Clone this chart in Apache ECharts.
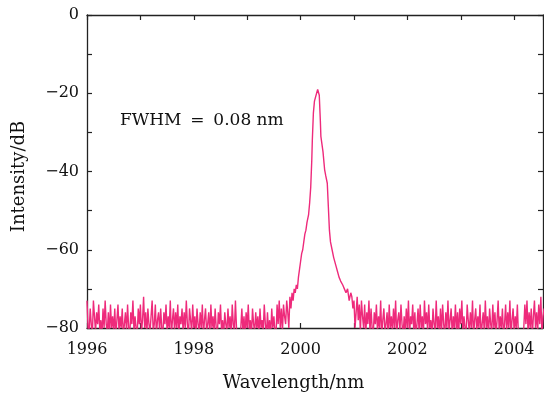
<!DOCTYPE html>
<html>
<head>
<meta charset="utf-8">
<script src="https://cdn.jsdelivr.net/npm/echarts@6/dist/echarts.min.js"></script>
<style>
  html, body { margin: 0; padding: 0; background: #fff; }
  #chart { width: 544px; height: 397px; }
</style>
</head>
<body>
<div id="chart"></div>
<script>
// 光谱数据
const noiseStep = 0.02;

// 左侧噪声底，从 1996.00 开始
const leftStart = 1996.0;
const leftNoise = [
  -73, -80, -81, -75, -79, -82, -73, -77, -81, -76,
  -79, -74, -81, -78, -82, -75, -80, -73, -79, -81,
  -76, -82, -74, -80, -77, -81, -75, -82, -78, -74,
  -81, -77, -80, -75, -82, -79, -76, -81, -74, -80,
  -82, -76, -79, -73, -81, -77, -80, -82, -75, -79,
  -74, -81, -78, -72, -80, -76, -82, -75, -79, -81,
  -77, -73, -81, -79, -74, -82, -78, -76, -81, -75,
  -80, -82, -76, -79, -74, -81, -77, -80, -73, -82,
  -78, -75, -81, -76, -80, -74, -82, -77, -79, -75,
  -81, -76, -80, -73, -79, -82, -75, -78, -81, -74,
  -80, -77, -82, -75, -79, -81, -76, -80, -74, -82,
  -78, -75, -81, -79, -76, -82, -74, -80, -77, -81,
  -75, -80, -82, -76, -79, -74, -81, -78, -82, -76,
  -79, -81, -75, -80, -77, -82, -74, -79, -81, -73,
  -80, -82, -81, -82, -80, -75, -81, -77, -82, -76,
  -80, -74, -81, -78, -82, -75, -79, -81, -76, -80,
  -77, -82, -75, -80, -78, -81, -74, -79, -82, -76,
  -81, -78, -82, -75, -80, -77, -81, -82, -74, -79,
  -73, -80, -75, -81, -74, -77, -79, -73, -76, -80,
  -72, -75, -71, -73, -70, -71, -69, -70, -67, -65
];

// 峰值区域 [波长, 强度]
const peakPoints = [
  [2000.00, -63], [2000.02, -61], [2000.04, -60], [2000.06, -58],
  [2000.08, -56], [2000.10, -55], [2000.12, -53], [2000.15, -51],
  [2000.17, -48], [2000.19, -44], [2000.21, -37], [2000.22, -32],
  [2000.24, -25], [2000.26, -22], [2000.28, -21], [2000.30, -20],
  [2000.32, -19], [2000.33, -19], [2000.35, -20.5], [2000.37, -27],
  [2000.38, -31], [2000.40, -33], [2000.42, -35], [2000.45, -39.5],
  [2000.47, -41], [2000.50, -43], [2000.52, -49], [2000.54, -55],
  [2000.56, -58], [2000.59, -60], [2000.62, -62], [2000.66, -64],
  [2000.69, -65.5], [2000.72, -67], [2000.75, -68], [2000.79, -69],
  [2000.82, -70], [2000.85, -71], [2000.88, -70], [2000.91, -73],
  [2000.94, -71]
];

// 右侧噪声底，从 2000.96 开始
const rightStart = 2000.96;
const rightNoise = [
  -72, -75, -73, -80, -76, -72, -78, -74, -81, -73,
  -77, -80, -74, -82, -76, -79, -73, -81, -75, -80,
  -82, -76, -79, -74, -81, -77, -80, -73, -82, -78,
  -75, -81, -79, -76, -82, -74, -80, -77, -81, -75,
  -80, -73, -82, -78, -76, -81, -74, -79, -82, -77,
  -81, -75, -80, -73, -82, -77, -79, -74, -81, -76,
  -82, -79, -75, -81, -74, -80, -77, -82, -73, -79,
  -76, -81, -74, -80, -78, -82, -75, -79, -81, -73,
  -80, -77, -82, -75, -81, -74, -79, -82, -76, -80,
  -73, -81, -78, -75, -82, -77, -80, -74, -81, -76,
  -82, -75, -79, -73, -81, -77, -80, -82, -74, -78,
  -81, -76, -80, -73, -82, -78, -75, -81, -77, -80,
  -74, -82, -79, -76, -81, -73, -80, -77, -82, -75,
  -79, -81, -74, -80, -76, -82, -78, -73, -81, -77,
  -80, -75, -82, -79, -74, -81, -76, -80, -73, -82,
  -78, -75, -81, -77, -80, -74, -82, -82, -82, -81,
  -82, -80, -74, -79, -73, -81, -76, -80, -75, -82,
  -77, -73, -80, -76, -81, -74, -79, -72, -82, -77,
  -75
];

const xTicks = [1996, 1998, 2000, 2002, 2004];
const yTicks = [0, -20, -40, -60, -80];

const series = [];
leftNoise.forEach((v, i) => series.push([+(leftStart + i * noiseStep).toFixed(2), v]));
peakPoints.forEach(p => series.push(p));
rightNoise.forEach((v, i) => series.push([+(rightStart + i * noiseStep).toFixed(2), v]));

const FONT = 'DejaVu Serif';
const FONT_SIZE = 16;
const AXIS_COLOR = '#222';

function fmtY(v) {
  return v < 0 ? '\u2212' + Math.abs(v) : String(v);
}

const chart = echarts.init(document.getElementById('chart'));

const commonAxis = {
  axisLine: { show: true, onZero: false, lineStyle: { color: AXIS_COLOR, width: 1.3 } },
  axisTick: { show: true, inside: true, length: 5, lineStyle: { color: AXIS_COLOR, width: 1.2 } },
  minorTick: { show: true, splitNumber: 2, length: 5, lineStyle: { color: AXIS_COLOR, width: 1.2 } },
  splitLine: { show: false }
};

chart.setOption({
  animation: false,
  backgroundColor: '#fff',
  grid: { left: 87, right: 1, top: 15, bottom: 67 },
  xAxis: [
    Object.assign({}, commonAxis, {
      type: 'value',
      min: 1996,
      max: 2004.54,
      interval: 2,
      position: 'bottom',
      name: 'Wavelength/nm',
      nameLocation: 'middle',
      nameGap: 46,
      nameTextStyle: { fontFamily: FONT, fontSize: 18, color: '#111', padding: [0, 43, 0, 0] },
      axisLabel: {
        fontFamily: FONT, fontSize: FONT_SIZE, color: '#111', margin: 14,
        showMaxLabel: false,
        formatter: v => xTicks.indexOf(v) >= 0 ? String(v) : ''
      }
    }),
    Object.assign({}, commonAxis, {
      type: 'value',
      min: 1996,
      max: 2004.54,
      interval: 2,
      position: 'top',
      axisLabel: { show: false }
    })
  ],
  yAxis: [
    Object.assign({}, commonAxis, {
      type: 'value',
      min: -80,
      max: 0,
      interval: 20,
      position: 'left',
      name: 'Intensity/dB',
      nameLocation: 'middle',
      nameGap: 59,
      nameTextStyle: { fontFamily: FONT, fontSize: 18, color: '#111', padding: [0, 10, 0, 0] },
      axisLabel: {
        fontFamily: FONT, fontSize: FONT_SIZE, color: '#111', margin: 8,
        formatter: v => yTicks.indexOf(v) >= 0 ? fmtY(v) : ''
      }
    }),
    Object.assign({}, commonAxis, {
      type: 'value',
      min: -80,
      max: 0,
      interval: 20,
      position: 'right',
      axisLabel: { show: false }
    })
  ],
  graphic: [{
    type: 'text',
    left: 120,
    top: 112,
    style: { text: 'FWHM\u2009 =\u2009 0.08 nm', fontFamily: FONT, fontSize: 17, fill: '#111' }
  }],
  series: [{
    type: 'line',
    data: series,
    showSymbol: false,
    symbol: 'none',
    clip: true,
    lineStyle: { color: '#ee2a7b', width: 1.4 }
  }]
});
</script>
</body>
</html>
